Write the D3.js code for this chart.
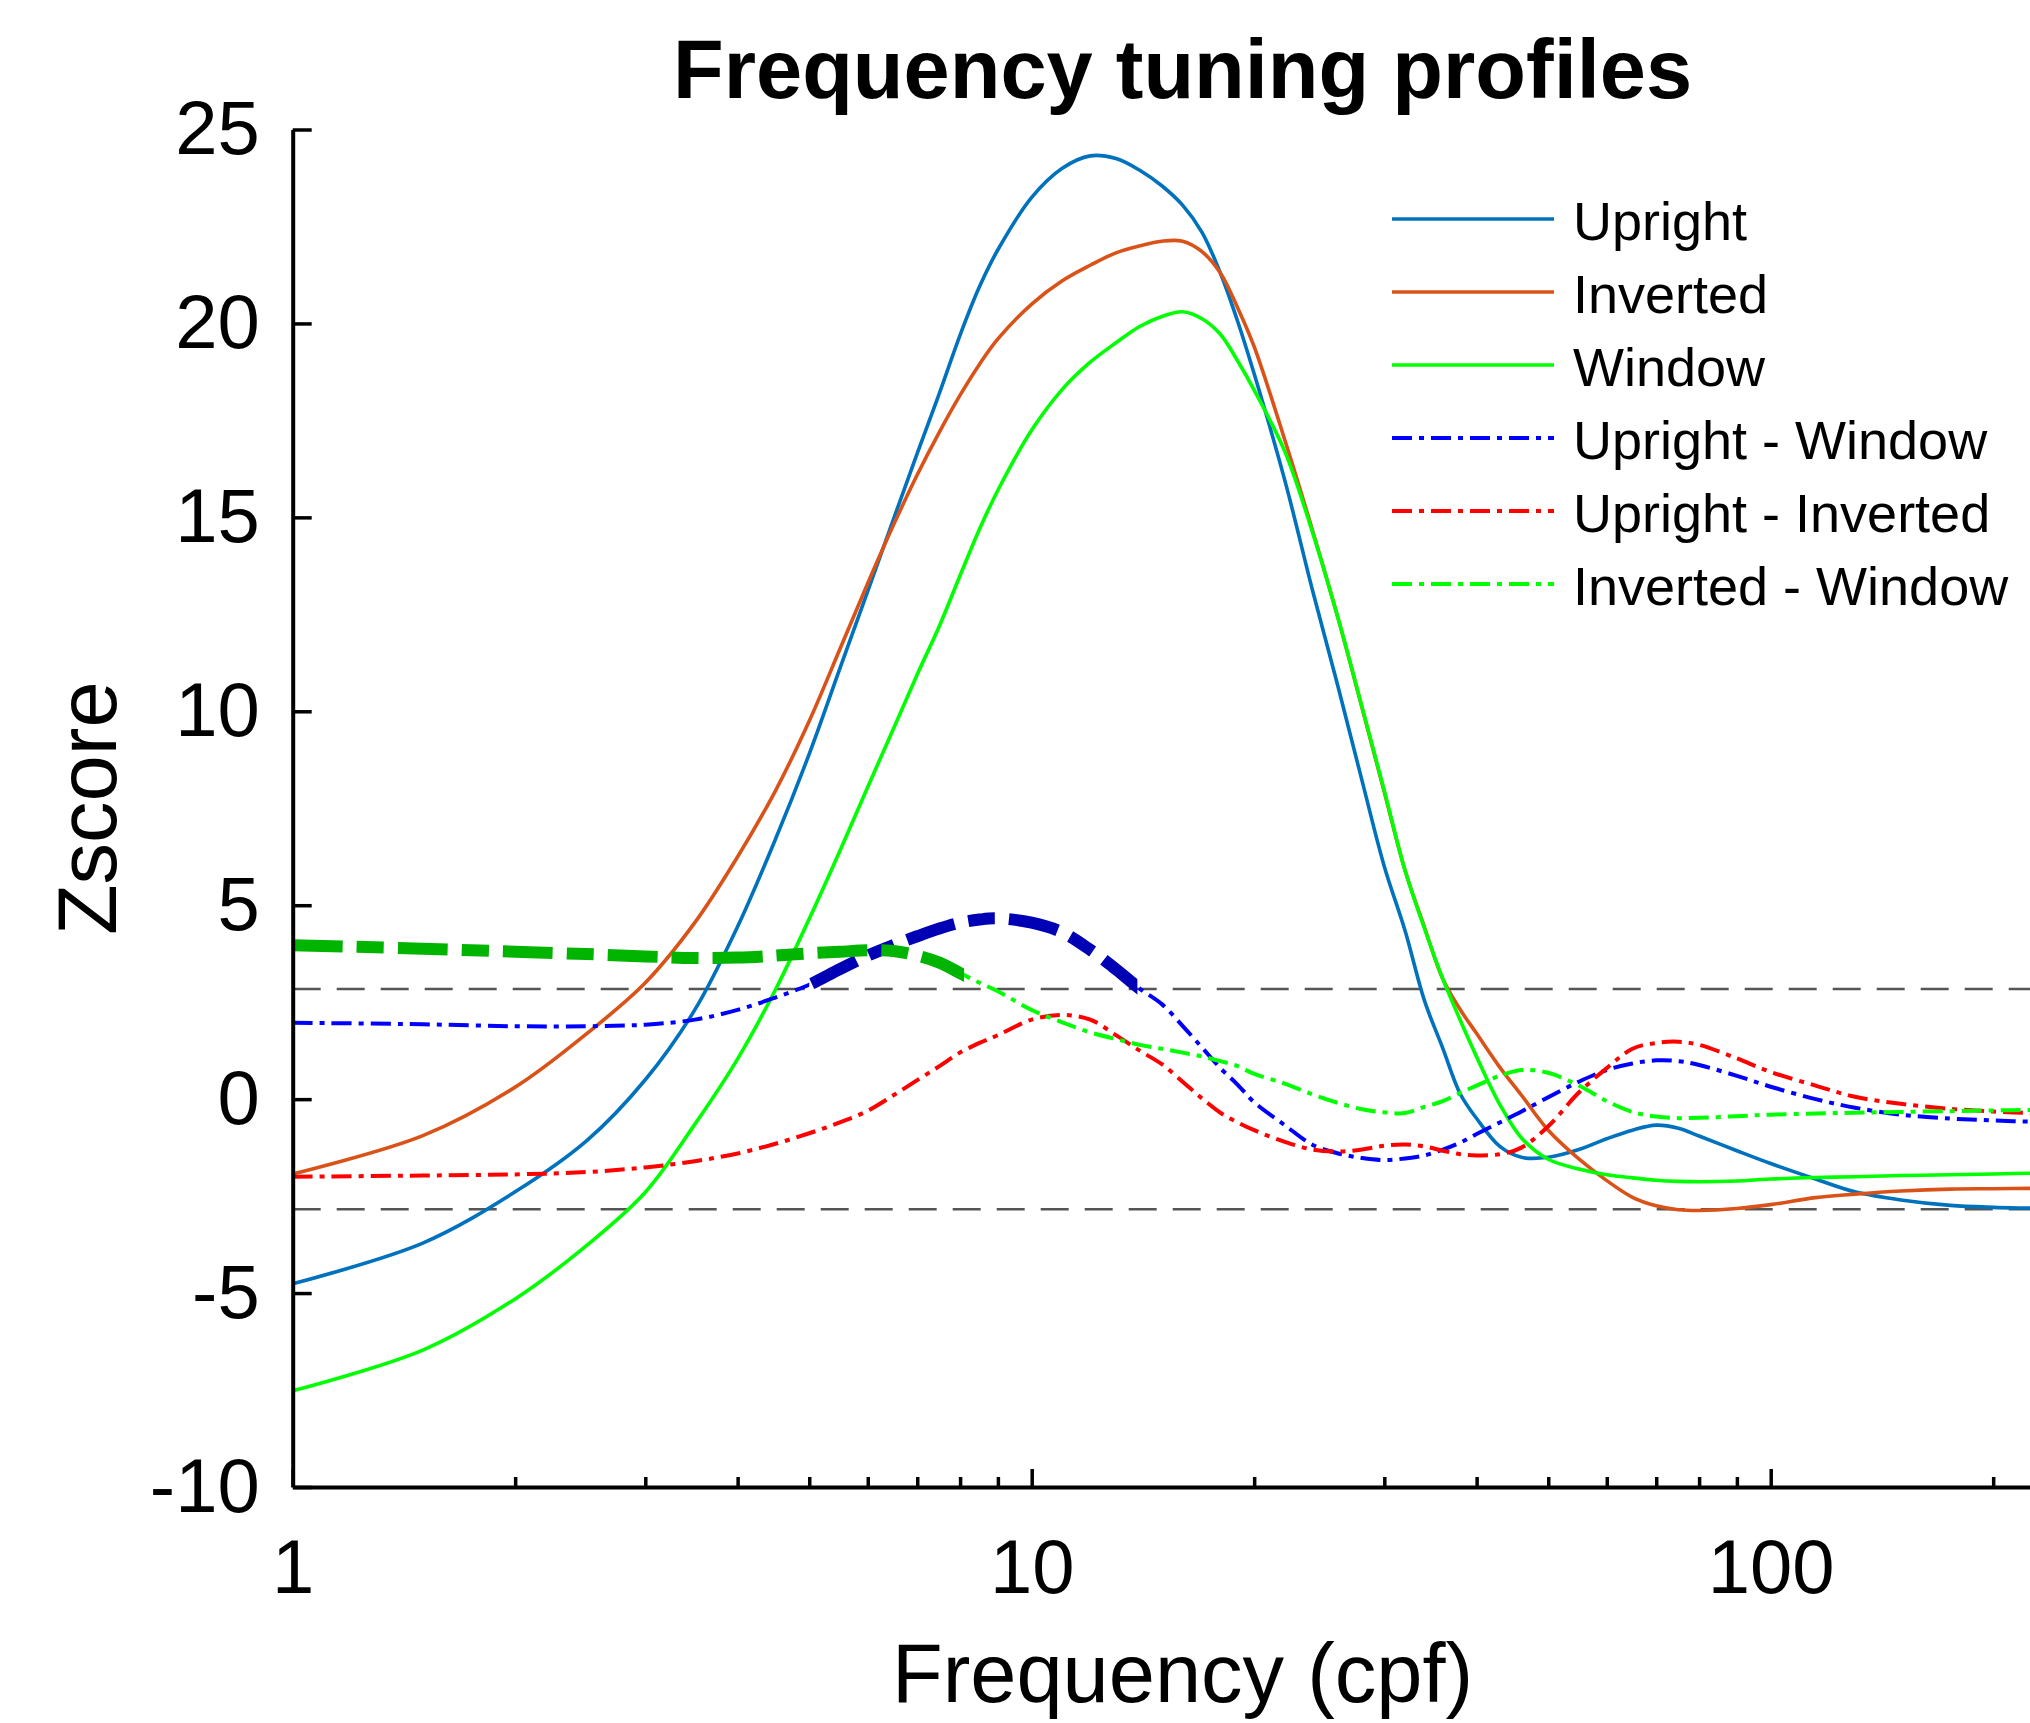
<!DOCTYPE html>
<html>
<head>
<meta charset="utf-8">
<script src="https://cdn.jsdelivr.net/npm/d3@7"></script>
<style>
  body { margin: 0; background: #fff; }
  svg { display: block; font-family: "Liberation Sans", Arial, Helvetica, sans-serif; }
</style>
</head>
<body>
<div id="graph"></div>
<script>
// Frequency grid (cpf) shared by every profile
var freq = [1, 1.5, 2, 2.5, 3, 3.5, 4, 4.5, 5, 5.5,
            6, 6.5, 7, 7.5, 8, 8.5, 9, 10, 11, 12,
            13, 14, 15, 16, 17, 18, 19, 20, 22, 24,
            26, 28, 30, 32, 34, 36, 38, 40, 43, 46,
            50, 55, 60, 65, 70, 75, 80, 90, 100, 115,
            130, 150, 175, 200, 225, 256];

var upright = [-4.76, -3.71, -2.39, -1.07, 0.50, 2.3, 4.45, 6.7, 8.9, 11.1,
               13.1, 14.95, 16.65, 18.2, 19.7, 20.95, 21.9, 23.25, 24.0, 24.32,
               24.25, 23.95, 23.55, 23.05, 22.35, 21.3, 20.05, 18.7, 15.96, 13.1,
               10.6, 8.2, 6.0, 4.35, 2.54, 1.31, 0.14, -0.5, -1.22, -1.5,
               -1.5, -1.3, -1.02, -0.8, -0.67, -0.75, -0.95, -1.33, -1.66, -2.06,
               -2.39, -2.6, -2.74, -2.79, -2.81, -2.83];

var inverted = [-1.93, -0.94, 0.31, 1.69, 3.0, 4.55, 6.25, 7.95, 9.75, 11.6,
                13.3, 14.8, 16.1, 17.2, 18.15, 18.95, 19.6, 20.5, 21.1, 21.5,
                21.82, 22.0, 22.12, 22.12, 21.85, 21.3, 20.4, 19.4, 17.0, 14.65,
                12.37, 10.08, 7.92, 5.9, 4.43, 3.1, 2.31, 1.69, 0.82, 0.1,
                -0.8, -1.54, -2.1, -2.53, -2.75, -2.85, -2.87, -2.82, -2.72, -2.54,
                -2.45, -2.37, -2.32, -2.31, -2.30, -2.29];

var windowed = [-7.52, -6.47, -5.15, -3.77, -2.4, -0.65, 1.04, 2.82, 4.65, 6.4,
                8.05, 9.55, 10.95, 12.2, 13.5, 14.7, 15.7, 17.25, 18.3, 19.0,
                19.5, 19.92, 20.18, 20.3, 20.12, 19.72, 19.03, 18.28, 16.7, 14.6,
                12.37, 10.1, 7.95, 5.9, 4.4, 3.1, 2.04, 1.09, -0.14, -1.0,
                -1.55, -1.8, -1.95, -2.03, -2.09, -2.12, -2.13, -2.11, -2.06, -2.02,
                -2.0, -1.97, -1.95, -1.93, -1.91, -1.9];

var uprightMinusWindow = [1.97, 1.93, 1.88, 1.88, 1.92, 2.05, 2.3, 2.62, 2.95, 3.35,
                          3.7, 3.97, 4.2, 4.4, 4.55, 4.63, 4.66, 4.55, 4.3, 3.85,
                          3.35, 2.85, 2.45, 1.89, 1.33, 0.8, 0.37, -0.08, -0.67, -1.18,
                          -1.4, -1.52, -1.57, -1.53, -1.45, -1.3, -1.12, -0.9, -0.6, -0.32,
                          0.05, 0.45, 0.75, 0.92, 1.0, 0.98, 0.88, 0.6, 0.32, 0.0,
                          -0.22, -0.4, -0.5, -0.55, -0.58, -0.6];

var uprightMinusInverted = [-2.0, -1.97, -1.94, -1.88, -1.76, -1.6, -1.4, -1.15, -0.88, -0.6,
                            -0.3, 0.1, 0.49, 0.85, 1.2, 1.45, 1.65, 2.05, 2.17, 2.05,
                            1.65, 1.25, 0.9, 0.45, 0.02, -0.35, -0.6, -0.8, -1.1, -1.3,
                            -1.35, -1.3, -1.2, -1.17, -1.22, -1.33, -1.42, -1.45, -1.42, -1.25,
                            -0.7, 0.17, 0.8, 1.3, 1.45, 1.48, 1.4, 1.05, 0.7, 0.35,
                            0.06, -0.12, -0.25, -0.32, -0.36, -0.38];

var invertedMinusWindow = [3.97, 3.88, 3.8, 3.74, 3.68, 3.64, 3.65, 3.7, 3.76, 3.8,
                           3.84, 3.82, 3.7, 3.52, 3.25, 3.0, 2.78, 2.3, 1.98, 1.72,
                           1.55, 1.4, 1.3, 1.2, 1.1, 0.98, 0.85, 0.65, 0.4, 0.12,
                           -0.1, -0.26, -0.34, -0.36, -0.2, -0.05, 0.16, 0.35, 0.6, 0.75,
                           0.68, 0.35, -0.05, -0.33, -0.45, -0.49, -0.48, -0.44, -0.4, -0.37,
                           -0.35, -0.33, -0.31, -0.29, -0.28, -0.28];

// significance threshold and the frequency ranges drawn as significant
var threshold = 2.84;
var sigUprightWindow = [5.0, 13.9];
var sigInvertedWindow = [1, 8.1];

var yTicks = [-10, -5, 0, 5, 10, 15, 20, 25];
var xTicks = [1, 10, 100];
var xMinorTicks = [2, 3, 4, 5, 6, 7, 8, 9, 20, 30, 40, 50, 60, 70, 80, 90, 200];

var W = 2030, H = 1723;
var plot = {left: 292.7, right: 2072.4, top: 129.5, bottom: 1487};

var svg = d3.select("#graph")
  .append("svg")
    .attr("width", W)
    .attr("height", H);

svg.append("rect").attr("width", W).attr("height", H).attr("fill", "#fff");

var x = d3.scaleLog().domain([1, 256]).range([plot.left, plot.right]);
var y = d3.scaleLinear().domain([-10, 25]).range([plot.bottom, plot.top]);

// clip paths for thin / thick parts of the difference curves
var defs = svg.append("defs");
function addClip(id, ranges) {
  var cp = defs.append("clipPath").attr("id", id);
  ranges.forEach(function(r) {
    cp.append("rect")
      .attr("x", x(r[0]))
      .attr("y", plot.top - 20)
      .attr("width", x(r[1]) - x(r[0]))
      .attr("height", plot.bottom - plot.top + 20);
  });
}
addClip("clip-all", [[1, 256]]);
addClip("clip-uw-thin", [[1, sigUprightWindow[0]], [sigUprightWindow[1], 256]]);
addClip("clip-uw-thick", [sigUprightWindow]);
addClip("clip-iw-thin", [[sigInvertedWindow[1], 256]]);
addClip("clip-iw-thick", [sigInvertedWindow]);

var dashDot = "20,7,5,7";
var thickDash = "50,14,27,14";

var series = [
  {name: "Upright", values: upright, color: "#0072BD", width: 3.6, dash: null},
  {name: "Inverted", values: inverted, color: "#D95319", width: 3.6, dash: null},
  {name: "Window", values: windowed, color: "#00FF00", width: 3.6, dash: null},
  {name: "Upright - Window", values: uprightMinusWindow, color: "#0000FF", width: 4, dash: dashDot,
   clip: "clip-uw-thin", thick: {clip: "clip-uw-thick", color: "#0000B4"}},
  {name: "Upright - Inverted", values: uprightMinusInverted, color: "#FF0000", width: 4, dash: dashDot},
  {name: "Inverted - Window", values: invertedMinusWindow, color: "#00FF00", width: 4, dash: dashDot,
   clip: "clip-iw-thin", thick: {clip: "clip-iw-thick", color: "#00B400"}}
];

var line = d3.line()
  .x(function(d) { return x(d[0]); })
  .y(function(d) { return y(d[1]); })
  .curve(d3.curveCatmullRom.alpha(0.5));

// threshold lines
[threshold, -threshold].forEach(function(t) {
  svg.append("line")
    .attr("x1", plot.left).attr("x2", plot.right)
    .attr("y1", y(t)).attr("y2", y(t))
    .attr("stroke", "#555")
    .attr("stroke-width", 2.5)
    .attr("stroke-dasharray", "28,16");
});

series.forEach(function(s) {
  var pts = freq.map(function(f, i) { return [f, s.values[i]]; });
  svg.append("path")
    .datum(pts)
    .attr("fill", "none")
    .attr("stroke", s.color)
    .attr("stroke-width", s.width)
    .attr("stroke-dasharray", s.dash)
    .attr("clip-path", "url(#" + (s.clip || "clip-all") + ")")
    .attr("d", line);
});

series.forEach(function(s) {
  if (!s.thick) return;
  var pts = freq.map(function(f, i) { return [f, s.values[i]]; });
  svg.append("path")
    .datum(pts)
    .attr("fill", "none")
    .attr("stroke", s.thick.color)
    .attr("stroke-width", 12)
    .attr("stroke-dasharray", thickDash)
    .attr("clip-path", "url(#" + s.thick.clip + ")")
    .attr("d", line);
});

// axes
var yAxis = svg.append("g")
  .attr("transform", "translate(" + plot.left + ",0)")
  .call(d3.axisLeft(y).tickValues(yTicks).tickSizeInner(-19).tickSizeOuter(0)
        .tickPadding(33).tickFormat(function(d) { return String(d); }));

var xAxis = svg.append("g")
  .attr("transform", "translate(0," + plot.bottom + ")")
  .call(d3.axisBottom(x).tickValues(xTicks).tickSizeInner(-18).tickSizeOuter(0)
        .tickPadding(52).tickFormat(function(d) { return String(d); }));

var xMinor = svg.append("g")
  .attr("transform", "translate(0," + plot.bottom + ")")
  .call(d3.axisBottom(x).tickValues(xMinorTicks).tickSizeInner(-10).tickSizeOuter(0)
        .tickFormat(""));
xMinor.select(".domain").remove();

[yAxis, xAxis, xMinor].forEach(function(g) {
  g.selectAll(".domain").attr("stroke", "#000").attr("stroke-width", 4);
  g.selectAll(".tick line").attr("stroke", "#000").attr("stroke-width", 3.5);
  g.selectAll("text")
    .attr("fill", "#000")
    .style("font-size", "76px")
    .style("font-family", "'Liberation Sans', Arial, sans-serif");
});

// title and labels
var midX = (plot.left + plot.right) / 2;
svg.append("text")
  .attr("x", midX)
  .attr("y", 98)
  .attr("text-anchor", "middle")
  .style("font-size", "83px")
  .style("font-weight", "bold")
  .text("Frequency tuning profiles");

svg.append("text")
  .attr("x", midX)
  .attr("y", 1702)
  .attr("text-anchor", "middle")
  .style("font-size", "83px")
  .text("Frequency (cpf)");

svg.append("text")
  .attr("transform", "translate(116," + ((plot.top + plot.bottom) / 2) + ") rotate(-90)")
  .attr("text-anchor", "middle")
  .style("font-size", "83px")
  .text("Zscore");

// legend
var legend = svg.append("g").attr("transform", "translate(1392,219)");
series.forEach(function(s, i) {
  var row = legend.append("g").attr("transform", "translate(0," + (i * 73) + ")");
  row.append("line")
    .attr("x1", 0).attr("x2", 162)
    .attr("stroke", s.color)
    .attr("stroke-width", s.width)
    .attr("stroke-dasharray", s.dash);
  row.append("text")
    .attr("x", 181)
    .attr("y", 21)
    .style("font-size", "54px")
    .text(s.name);
});
</script>
</body>
</html>
